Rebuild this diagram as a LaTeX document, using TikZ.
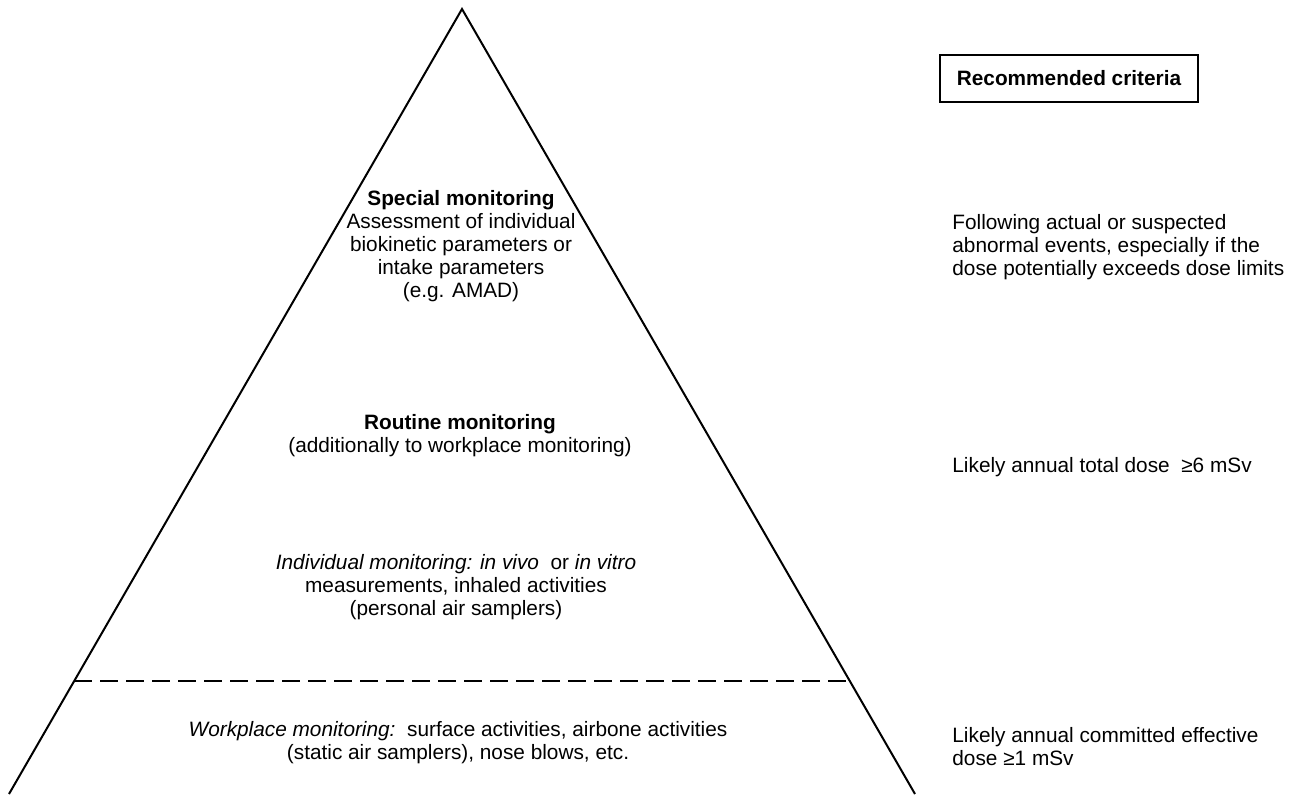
\documentclass[tikz,border=0pt]{standalone}
\usepackage{fontspec}
\setmainfont{Liberation Sans}
\usetikzlibrary{calc}
\begin{document}
\begin{tikzpicture}[x=0.5pt,y=-0.5pt,
  txt/.style={font=\fontsize{10.4}{11.5}\selectfont,align=center,inner sep=0pt},
  crit/.style={font=\fontsize{10.4}{11.5}\selectfont,align=left,anchor=west,inner sep=0pt}]
 \useasboundingbox (0,0) rectangle (1293,794);
 \coordinate (apex) at (462,9);
 \coordinate (bl) at (9,794);
 \coordinate (br) at (915,794);
 \coordinate (dl) at ($(apex)!0.856!(bl)$);
 \coordinate (dr) at ($(apex)!0.856!(br)$);
 \draw[line width=1pt] (bl)--(apex)--(br);
 \draw[line width=0.9pt,dash pattern=on 9pt off 4pt] (dl)--(dr);
 \node[txt] (special) at (461,246) {\textbf{Special monitoring}\\Assessment of individual\\biokinetic parameters or\\intake parameters\\(e.g. AMAD)};
 \node[txt] (routine) at (460,435.5) {\textbf{Routine monitoring}\\(additionally to workplace monitoring)};
 \node[txt] (individual) at (456,587) {\textit{Individual monitoring: in vivo}\ \ or \textit{in vitro}\\measurements, inhaled activities\\(personal air samplers)};
 \node[txt] (workplace) at (458,742.5) {\textit{Workplace monitoring:}\ \ surface activities, airbone activities\\(static air samplers), nose blows, etc.};
 \node[draw,line width=1pt,minimum width=129pt,minimum height=23.5pt,font=\fontsize{10.4}{11.5}\selectfont\bfseries] (criteria) at (1069,78) {Recommended criteria};
 \node[crit] (special crit) at (952,247) {Following actual or suspected\\abnormal events, especially if the\\dose potentially exceeds dose limits};
 \node[crit] (routine crit) at (952,467) {Likely annual total dose\ \ ≥6 mSv};
 \node[crit] (workplace crit) at (952,746.5) {Likely annual committed effective\\dose ≥1 mSv};
\end{tikzpicture}
\end{document}
